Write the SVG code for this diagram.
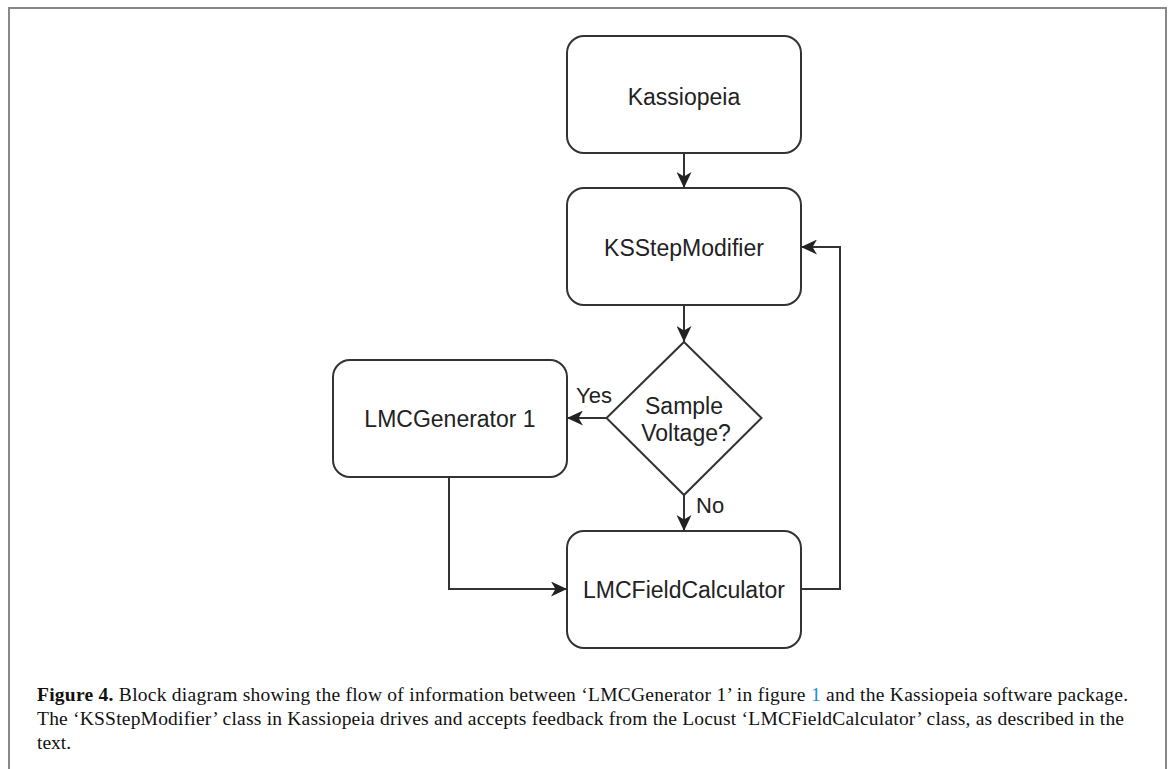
<svg xmlns="http://www.w3.org/2000/svg" width="1168" height="769" viewBox="0 0 1168 769">
<style>
.box{fill:#fff;stroke:#333;stroke-width:2}
.lbl{font-family:"Liberation Sans",Arial,sans-serif;font-size:23px;fill:#222;text-anchor:middle}
.small{font-family:"Liberation Sans",Arial,sans-serif;font-size:22px;fill:#222}
.con{fill:none;stroke:#333;stroke-width:2}
.cap{font-family:"Liberation Serif","Times New Roman",serif;font-size:19.5px;fill:#111}
</style>
<defs>
<marker id="arr" markerUnits="userSpaceOnUse" markerWidth="17" markerHeight="15" refX="16" refY="7.5" orient="auto">
<path d="M0,0 L16,7.5 L0,15 L4.5,7.5 z" fill="#222"/>
</marker>
</defs>
<rect width="1168" height="769" fill="#fff"/>
<rect x="9" y="8" width="1157" height="800" fill="none" stroke="#888" stroke-width="2"/>

<g id="connectors">
<path class="con" d="M684,153 V188" marker-end="url(#arr)"/>
<path class="con" d="M684,305 V342" marker-end="url(#arr)"/>
<path class="con" d="M607,418 H567" marker-end="url(#arr)"/>
<path class="con" d="M684,495 V531" marker-end="url(#arr)"/>
<path class="con" d="M449,477 V589 H567" marker-end="url(#arr)"/>
<path class="con" d="M801,589 H840 V247 H801" marker-end="url(#arr)"/>
<text class="small" x="594" y="403" text-anchor="middle">Yes</text>
<text class="small" x="696" y="513">No</text>
</g>

<g id="kassiopeia">
<rect class="box" x="567" y="36" width="234" height="117" rx="17"/>
<text class="lbl" x="684" y="105">Kassiopeia</text>
</g>
<g id="ksstepmodifier">
<rect class="box" x="567" y="188" width="234" height="117" rx="17"/>
<text class="lbl" x="684" y="256">KSStepModifier</text>
</g>
<g id="sample-voltage">
<polygon class="box" points="684,342 761.5,418 684,495 606.5,418"/>
<text class="lbl" x="684" y="414">Sample</text>
<text class="lbl" x="686" y="441">Voltage?</text>
</g>
<g id="lmcgenerator">
<rect class="box" x="333" y="360" width="234" height="117" rx="17"/>
<text class="lbl" x="450" y="427">LMCGenerator 1</text>
</g>
<g id="lmcfieldcalculator">
<rect class="box" x="567" y="531" width="234" height="117" rx="17"/>
<text class="lbl" x="684" y="598">LMCFieldCalculator</text>
</g>

<g id="caption">
<text class="cap" x="37" y="701" textLength="1091" lengthAdjust="spacing"><tspan font-weight="bold">Figure 4.</tspan> Block diagram showing the flow of information between ‘LMCGenerator 1’ in figure <tspan fill="#1a8fc9">1</tspan> and the Kassiopeia software package.</text>
<text class="cap" x="37" y="725" textLength="1087" lengthAdjust="spacing">The ‘KSStepModifier’ class in Kassiopeia drives and accepts feedback from the Locust ‘LMCFieldCalculator’ class, as described in the</text>
<text class="cap" x="37" y="749">text.</text>
</g>
</svg>
